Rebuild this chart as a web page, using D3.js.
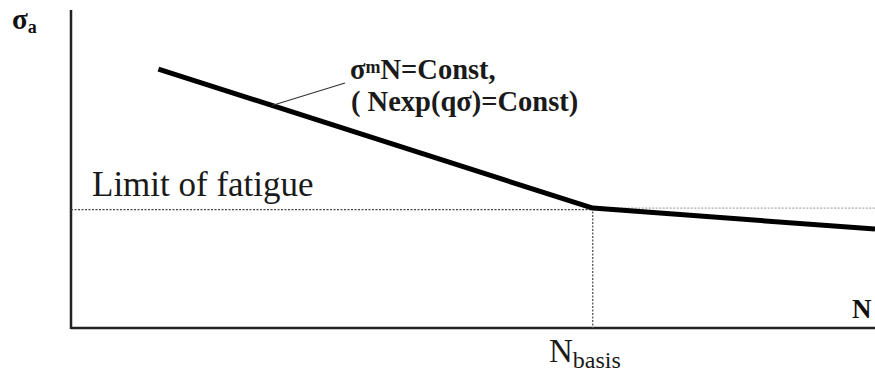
<!DOCTYPE html>
<html>
<head>
<meta charset="utf-8">
<script src="https://cdn.jsdelivr.net/npm/d3@7/dist/d3.min.js"></script>
<style>
  html, body { margin: 0; padding: 0; background: #fff; }
  svg { display: block; }
</style>
</head>
<body>
<svg id="chart" width="875" height="374"></svg>
<script>
// S-N (Wöhler) curve: stress amplitude vs. number of cycles
const logCycles    = [1.0, 5.97, 9.2];    // abscissa of curve vertices
const stressAmp    = [81.4, 37.7, 31.1];  // stress amplitude at each vertex
const fatigueLimit = 37.2;                // horizontal reference level
const nBasis       = 5.97;                // base number of cycles

const serif = "Liberation Serif";
const svg = d3.select("#chart");

const x = d3.scaleLinear().domain([0, 9.2]).range([71, 875]);
const y = d3.scaleLinear().domain([0, 100]).range([328, 10]);

// axes (plain lines, no ticks)
svg.append("line")
  .attr("x1", x(0)).attr("x2", x(0))
  .attr("y1", y(100)).attr("y2", y(0) + 1)
  .attr("stroke", "#222").attr("stroke-width", 2.5);
svg.append("line")
  .attr("x1", x(0)).attr("x2", x(9.2))
  .attr("y1", y(0)).attr("y2", y(0))
  .attr("stroke", "#222").attr("stroke-width", 2.5);

// fatigue limit, dashed (darker left of the knee, lighter to the right)
svg.append("line")
  .attr("x1", x(0)).attr("x2", x(nBasis))
  .attr("y1", y(fatigueLimit)).attr("y2", y(fatigueLimit))
  .attr("stroke", "#444").attr("stroke-width", 1.3)
  .attr("stroke-dasharray", "2,1.5");
svg.append("line")
  .attr("x1", x(nBasis)).attr("x2", x(9.2))
  .attr("y1", y(stressAmp[1])).attr("y2", y(stressAmp[1]))
  .attr("stroke", "#aaa").attr("stroke-width", 1.3)
  .attr("stroke-dasharray", "2,1.5");

// vertical guide at N_basis
svg.append("line")
  .attr("x1", x(nBasis)).attr("x2", x(nBasis))
  .attr("y1", y(stressAmp[1])).attr("y2", y(0))
  .attr("stroke", "#555").attr("stroke-width", 1.3)
  .attr("stroke-dasharray", "2,1.5");

// the curve
const pts = logCycles.map((d, i) => [d, stressAmp[i]]);
svg.append("path")
  .datum(pts)
  .attr("d", d3.line().x(d => x(d[0])).y(d => y(d[1])))
  .attr("fill", "none").attr("stroke", "#000")
  .attr("stroke-width", 5).attr("stroke-linejoin", "round");

// leader line to the formula
const leadAt = 2.3;
const leadY = stressAmp[0] + (stressAmp[1] - stressAmp[0]) * (leadAt - logCycles[0]) / (logCycles[1] - logCycles[0]);
svg.append("line")
  .attr("x1", x(leadAt)).attr("y1", y(leadY))
  .attr("x2", 345).attr("y2", 83)
  .attr("stroke", "#333").attr("stroke-width", 1.2);

// formula labels
const f1 = svg.append("text").attr("x", 350).attr("y", 79)
  .attr("font-family", serif).attr("font-size", 28.5).attr("font-weight", "bold").attr("fill", "#1a1a1a");
f1.append("tspan").text("σ");
f1.append("tspan").text("m").attr("font-size", 18).attr("dy", -6);
f1.append("tspan").text("N=Const,").attr("dy", 6);

svg.append("text").attr("x", 351).attr("y", 111)
  .attr("font-family", serif).attr("font-size", 28.5).attr("font-weight", "bold").attr("fill", "#1a1a1a")
  .text("( Nexp(qσ)=Const)");

// fatigue limit label
svg.append("text").attr("x", 92).attr("y", 196)
  .attr("font-family", serif).attr("font-size", 35).attr("fill", "#1a1a1a")
  .text("Limit of fatigue");

// axis labels
const sa = svg.append("text").attr("x", 12).attr("y", 29)
  .attr("font-family", serif).attr("font-size", 29).attr("font-weight", "bold").attr("fill", "#111");
sa.append("tspan").text("σ");
sa.append("tspan").text("a").attr("font-size", 18).attr("dy", 4);

svg.append("text").attr("x", 852).attr("y", 318)
  .attr("font-family", serif).attr("font-size", 27).attr("font-weight", "bold").attr("fill", "#111")
  .text("N");

const nb = svg.append("text").attr("x", 549).attr("y", 362)
  .attr("font-family", serif).attr("font-size", 33).attr("fill", "#1a1a1a");
nb.append("tspan").text("N");
nb.append("tspan").text("basis").attr("font-size", 24).attr("dy", 6);
</script>
</body>
</html>
